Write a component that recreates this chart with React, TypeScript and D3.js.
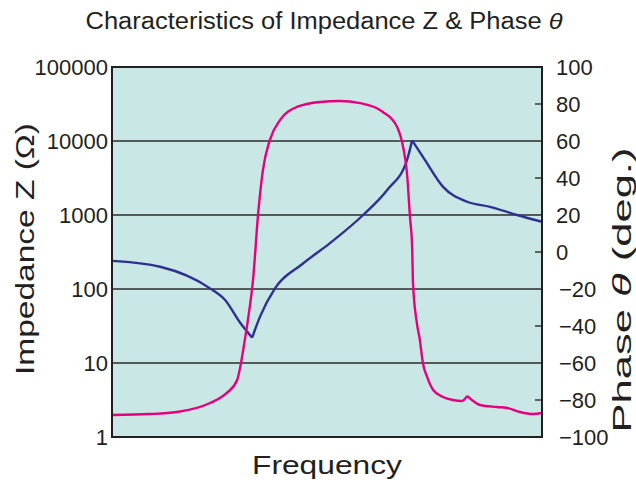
import * as React from "react";
import * as d3 from "d3";

// impedance curve (relative frequency 0..100, ohms)
const zFreq = [0, 11.2, 22.8, 26.3, 29.8, 32.6, 34.4, 37.9, 44.2, 50.7, 58.4, 64.0, 68.6, 69.8, 72.8, 77.0, 82.6, 87.9, 94.2, 100];
const zValues = [240, 200, 102, 71, 35, 22, 42, 102, 216, 417, 1000, 2180, 5530, 10200, 5500, 2400, 1510, 1290, 1000, 810];
const zBreaks = [5, 13];

// phase curve (relative frequency 0..100, degrees)
const pFreq = [0, 8.8, 15.1, 22.8, 26.7, 29.1, 30.0, 30.7, 31.6, 32.8, 34.0, 35.1, 36.7, 39.1, 43.0, 48.4, 53.0, 57.7, 63.0, 66.3, 67.7, 68.6, 69.3, 69.8, 70.0, 70.9, 71.6, 72.3, 73.3, 74.7, 77.0, 79.3, 81.4, 82.6, 83.7, 85.6, 89.5, 91.9, 94.9, 97.9, 100];
const pValues = [-88.1, -87.6, -86.5, -81.6, -76.2, -69.2, -60, -50.3, -36.8, -15.1, 21.1, 44.3, 60.5, 71.4, 78.4, 81.1, 81.6, 80.5, 75.7, 67.6, 56.8, 42.7, 18.9, 2.7, -16.8, -38.4, -47.6, -60, -67.6, -74.6, -78.4, -80, -80.5, -77.8, -80, -82.7, -83.8, -84.3, -86.5, -87.6, -87.0];
const pBreaks = [33];

const zTicks = [1, 10, 100, 1000, 10000, 100000];
const zTickLabels = ["1", "10", "100", "1000", "10000", "100000"];
const zGrid = [10, 100, 1000, 10000];
const pTicks = [100, 80, 60, 40, 20, 0, -20, -40, -60, -80, -100];
const pInnerTicks = [80, 40, 0, -40, -80];

const W = 636;
const H = 482;
const left = 112;
const right = 542;
const top = 67;
const bottom = 437;

const font = "Liberation Sans, Arimo, Roboto, Arial, sans-serif";

function splitAt(n: number, breaks: number[]) {
  const cuts = [0, ...breaks, n - 1];
  const out: number[][] = [];
  for (let i = 0; i < cuts.length - 1; i++) {
    out.push(d3.range(cuts[i], cuts[i + 1] + 1));
  }
  return out;
}

export default function App() {
  const x = d3.scaleLinear().domain([0, 100]).range([left, right]);
  const yZ = d3.scaleLog().domain([1, 100000]).range([bottom, top]);
  const yP = d3.scaleLinear().domain([-100, 100]).range([bottom, top]);

  const zLine = d3
    .line<number>()
    .x(i => x(zFreq[i]))
    .y(i => yZ(zValues[i]))
    .curve(d3.curveMonotoneX);
  const pLine = d3
    .line<number>()
    .x(i => x(pFreq[i]))
    .y(i => yP(pValues[i]))
    .curve(d3.curveMonotoneX);

  const zSegs = splitAt(zFreq.length, zBreaks);
  const pSegs = splitAt(pFreq.length, pBreaks);

  return (
    <svg
      width={W}
      height={H}
      style={{ position: "absolute", left: 0, top: 0, background: "#fff" }}
    >
      <text
        x={324}
        y={29}
        textAnchor="middle"
        fontFamily={font}
        fontSize={23}
        fill="#231f20"
        textLength={477}
        lengthAdjust="spacingAndGlyphs"
      >
        Characteristics of Impedance Z &amp; Phase{" "}
        <tspan fontStyle="italic">θ</tspan>
      </text>

      <rect x={left} y={top} width={right - left} height={bottom - top} fill="#c9e7e4" />

      {zGrid.map(v => (
        <line key={v} x1={left} x2={right} y1={yZ(v)} y2={yZ(v)} stroke="#2b2b2b" strokeWidth={1.4} />
      ))}
      {pInnerTicks.map(v => (
        <line key={v} x1={right - 7} x2={right} y1={yP(v)} y2={yP(v)} stroke="#2b2b2b" strokeWidth={1.4} />
      ))}

      <g fill="none" strokeWidth={2.4} strokeLinejoin="round">
        {zSegs.map((s, i) => (
          <path key={"z" + i} d={zLine(s) as string} stroke="#2e3192" />
        ))}
        {pSegs.map((s, i) => (
          <path key={"p" + i} d={pLine(s) as string} stroke="#e6007e" />
        ))}
      </g>

      <rect
        x={left}
        y={top}
        width={right - left}
        height={bottom - top}
        fill="none"
        stroke="#231f20"
        strokeWidth={2}
      />

      <g fontFamily={font} fontSize={22} fill="#231f20">
        {zTicks.map((v, i) => (
          <text key={v} x={108} y={yZ(v) + 8} textAnchor="end">
            {zTickLabels[i]}
          </text>
        ))}
        {pTicks.map(v => (
          <text key={v} x={v < 0 ? 559 : 556} y={yP(v) + 8} textAnchor="start">
            {v < 0 ? "−" + Math.abs(v) : String(v)}
          </text>
        ))}
      </g>

      <text
        transform={`translate(34,249) rotate(-90)`}
        textAnchor="middle"
        fontFamily={font}
        fontSize={26}
        fill="#231f20"
        textLength={252}
        lengthAdjust="spacingAndGlyphs"
      >
        Impedance  Z (Ω)
      </text>

      <text
        transform={`translate(631,290) rotate(-90)`}
        textAnchor="middle"
        fontFamily={font}
        fontSize={25}
        fill="#231f20"
        textLength={285}
        lengthAdjust="spacingAndGlyphs"
      >
        Phase <tspan fontStyle="italic">θ</tspan> (deg.)
      </text>

      <text
        x={327}
        y={474}
        textAnchor="middle"
        fontFamily={font}
        fontSize={26}
        fill="#231f20"
        textLength={150}
        lengthAdjust="spacingAndGlyphs"
      >
        Frequency
      </text>
    </svg>
  );
}
